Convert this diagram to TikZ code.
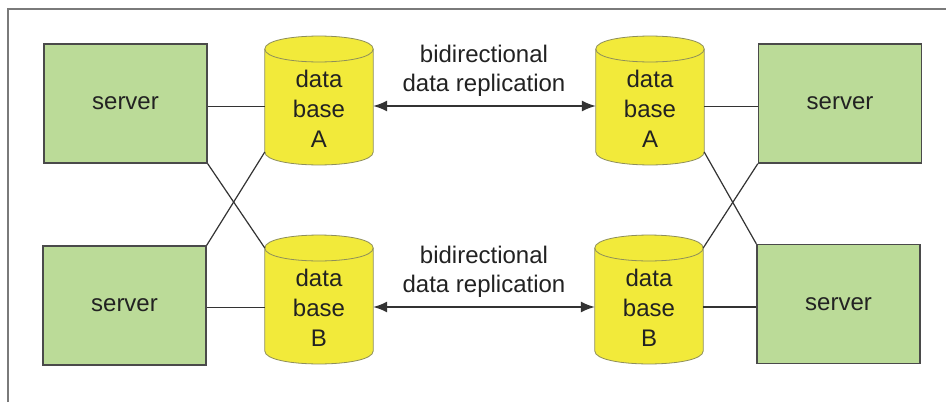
\documentclass[tikz,border=0pt]{standalone}
\usepackage{fontspec}
\setmainfont{Liberation Sans}
\usetikzlibrary{arrows.meta,calc,backgrounds}

\definecolor{srvfill}{HTML}{BBDB98}
\definecolor{srvline}{HTML}{4A4A4A}
\definecolor{dbfill}{HTML}{F2EA3A}
\definecolor{dbline}{HTML}{8E8E5A}
\definecolor{wire}{HTML}{333333}
\definecolor{ink}{HTML}{222222}
\definecolor{framecol}{HTML}{7A7A7A}

\tikzset{
  server/.style={draw=srvline, line width=1.4pt, fill=srvfill, minimum width=163pt,
    minimum height=119pt, inner sep=0pt, font=\fontsize{24}{29}\selectfont, text=ink},
  dbtext/.style={minimum width=108pt, inner sep=0pt, align=center,
    font=\fontsize{24}{30}\selectfont, text=ink},
  reptext/.style={inner sep=0pt, align=center, font=\fontsize{24}{29}\selectfont, text=ink},
  wireline/.style={draw=wire, line width=1.2pt},
  replarrow/.style={draw=wire, line width=1.5pt, {Latex[length=14pt,width=11pt]}-{Latex[length=14pt,width=11pt]}},
  dbbody/.style={fill=dbfill, draw=dbline, line width=0.8pt},
}

% cylinder drawn around a database label node
\newcommand\dbcylinder[1]{%
  \path[dbbody] let \p1=(#1.west), \p2=(#1.east) in
    (\x1,\y1+60pt) -- (\x1,\y1-43pt)
    .. controls (\x1,\y1-60.3pt) and (\x2,\y1-60.3pt) .. (\x2,\y1-43pt)
    -- (\x2,\y1+60pt)
    .. controls (\x2,\y1+77.3pt) and (\x1,\y1+77.3pt) .. cycle;
  \path[dbbody, fill=none] let \p1=(#1.west), \p2=(#1.east) in
    (\x1,\y1+60pt) .. controls (\x1,\y1+42.7pt) and (\x2,\y1+42.7pt) .. (\x2,\y1+60pt);
}

\begin{document}
\begin{tikzpicture}[x=1pt, y=-1pt]
\useasboundingbox (0,0) rectangle (946,402);

% outer frame
\draw[framecol, line width=1.5pt] (8,402) -- (8,9) -- (946,9);

% servers
\node[server] (sTL) at (125.5,103.5) {server};
\node[server] (sBL) at (124.5,305.5) {server};
\node[server] (sTR) at (840,103.5) {server};
\node[server] (sBR) at (838.5,304) {server};

% database labels
\node[dbtext] (dAL) at (319,109) {data\\base\\A};
\node[dbtext] (dAR) at (650,109) {data\\base\\A};
\node[dbtext] (dBL) at (319,308) {data\\base\\B};
\node[dbtext] (dBR) at (649,308) {data\\base\\B};

% replication labels
\node[reptext] (rA) at (484,71) {bidirectional\\data replication};
\node[reptext] (rB) at (484,272) {bidirectional\\data replication};

\begin{pgfonlayer}{background}
  \fill[white] (0,0) rectangle (946,402);
  \dbcylinder{dAL}
  \dbcylinder{dAR}
  \dbcylinder{dBL}
  \dbcylinder{dBR}
\end{pgfonlayer}

% server to database links
\draw[wireline] ([yshift=-3pt]sTL.east) -- ([yshift=-3pt]sTL.east -| dAL.west);
\draw[wireline] ([yshift=-2pt]sBL.east) -- ([yshift=-2pt]sBL.east -| dBL.west);
\draw[wireline] ([yshift=-3pt]sTR.west) -- ([yshift=-3pt]sTR.west -| dAR.east);
\draw[wireline] ([yshift=-3pt]sBR.west) -- ([yshift=-3pt]sBR.west -| dBR.east);

% crossed links
\draw[wireline] (sTL.south east) -- ([yshift=60pt]dBL.west);
\draw[wireline] (sBL.north east) -- ([yshift=-43pt]dAL.west);
\draw[wireline] (sTR.south west) -- ([yshift=60pt]dBR.east);
\draw[wireline] (sBR.north west) -- ([yshift=-43pt]dAR.east);

% replication arrows
\draw[replarrow] ([yshift=3pt]dAL.east) -- ([yshift=3pt]dAR.west);
\draw[replarrow] ([yshift=1pt]dBL.east) -- ([yshift=1pt]dBR.west);
\end{tikzpicture}
\end{document}
